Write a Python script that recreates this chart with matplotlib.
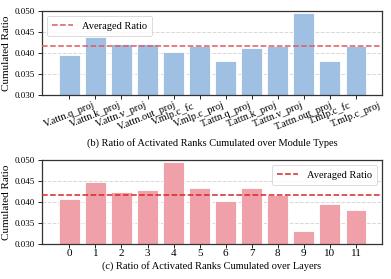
import numpy as np
import matplotlib
matplotlib.use("Agg")
import matplotlib.pyplot as plt

# === data ===
module_names = ["V.attn.q_proj", "V.attn.k_proj", "V.attn.v_proj", "V.attn.out_proj",
                "V.mlp.c_fc", "V.mlp.c_proj", "T.attn.q_proj", "T.attn.k_proj",
                "T.attn.v_proj", "T.attn.out_proj", "T.mlp.c_fc", "T.mlp.c_proj"]
module_ratio = [0.0395, 0.0439, 0.0421, 0.0421, 0.0403, 0.0417,
                0.0382, 0.0413, 0.0417, 0.0495, 0.0382, 0.0417]

layer_names = [str(i) for i in range(12)]
layer_ratio = [0.0407, 0.0447, 0.0424, 0.0429, 0.0495, 0.0432,
               0.0402, 0.0432, 0.0416, 0.0330, 0.0394, 0.0381]

avg_ratio = 1 / 12 / 2  # 0.04167

plt.rcParams['font.family'] = ['Liberation Serif', 'DejaVu Serif']

fig = plt.figure(figsize=(3.91, 2.79), dpi=100)


def draw_panel(ax, labels, values, color, line_color, legend_loc, rot):
    x = np.arange(len(values))
    ax.bar(x, values, width=0.8, color=color, edgecolor='white', linewidth=0.6, zorder=2)
    ax.axhline(avg_ratio, color=line_color, linestyle='--', linewidth=1.1,
               label='Averaged Ratio', zorder=3)
    ax.set_ylim(0.030, 0.050)
    ax.set_yticks([0.030, 0.035, 0.040, 0.045, 0.050])
    ax.set_yticklabels([f"{v:.3f}" for v in [0.030, 0.035, 0.040, 0.045, 0.050]])
    ax.set_xlim(-1.05, 12.0)
    ax.set_xticks(x)
    if rot:
        ax.set_xticklabels(labels, rotation=rot, ha='center', fontsize=7.5)
    else:
        ax.set_xticklabels(labels, fontsize=8)
    ax.tick_params(axis='y', labelsize=6.5, length=3, width=0.6, pad=2)
    ax.tick_params(axis='x', length=3, width=0.6, pad=1)
    ax.grid(axis='y', linestyle='--', color='#d8d8d8', linewidth=0.7, zorder=0)
    ax.set_axisbelow(True)
    for s in ax.spines.values():
        s.set_color('#333333')
        s.set_linewidth(0.9)
    ax.set_ylabel('Cumulated Ratio', fontsize=8, labelpad=3)
    leg = ax.legend(loc=legend_loc, fontsize=7.5, frameon=True, fancybox=True,
                    handlelength=2.0, borderpad=0.5)
    leg.get_frame().set_edgecolor('#cccccc')
    leg.get_frame().set_linewidth(0.6)


ax1 = fig.add_axes([0.1074, 0.6595, 0.8696, 0.3011])
draw_panel(ax1, module_names, module_ratio, '#9fbfe3', '#e05a5f', 'upper left', 22)

ax2 = fig.add_axes([0.1074, 0.1265, 0.8696, 0.3000])
draw_panel(ax2, layer_names, layer_ratio, '#f0a0a8', '#d62728', 'upper right', 0)

fig.text(0.542, 0.487, '(b) Ratio of Activated Ranks Cumulated over Module Types',
         ha='center', va='center', fontsize=7.5)
fig.text(0.542, 0.047, '(c) Ratio of Activated Ranks Cumulated over Layers',
         ha='center', va='center', fontsize=7.5)

fig.savefig('out.png', dpi=100)
